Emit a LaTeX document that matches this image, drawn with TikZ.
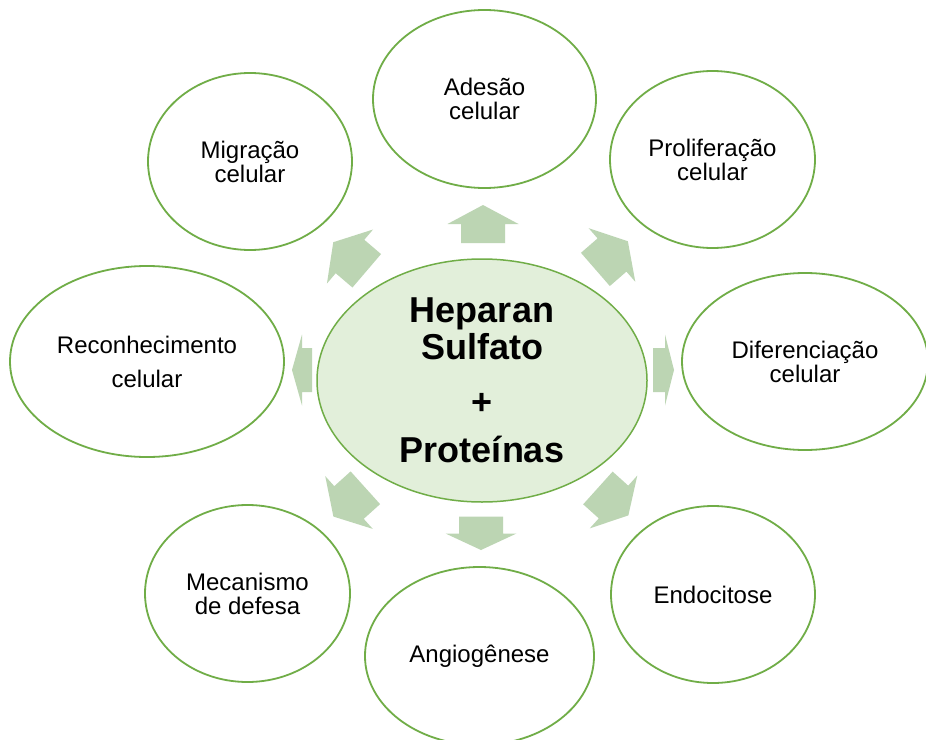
\documentclass[tikz,border=0pt]{standalone}
\usepackage{fontspec}
\setmainfont{Liberation Sans}
\usetikzlibrary{shapes.geometric}
\definecolor{ringgreen}{HTML}{70AD47}
\definecolor{arrowgreen}{HTML}{BCD5B3}
\definecolor{hubfill}{HTML}{E2EFDA}
\tikzset{
  bubble/.style={ellipse, draw=ringgreen, line width=1.8bp, fill=white, inner sep=0pt, align=center,
    font=\fontsize{24bp}{24bp}\selectfont},
  hub/.style={ellipse, draw=ringgreen, line width=1.5bp, fill=hubfill, inner sep=0pt, align=center,
    font=\fontsize{36bp}{37bp}\selectfont\bfseries},
  blockarrow/.style={fill=arrowgreen, draw=none},
}
\newcommand{\blockarr}[5]{%
  \begin{scope}[shift={(#1,#2)}, rotate=#3]
    \fill[blockarrow] (-#4,-22) -- (0,-22) -- (0,-35.5) -- (#5,0) -- (0,35.5) -- (0,22) -- (-#4,22) -- cycle;
  \end{scope}}
\begin{document}
\begin{tikzpicture}[x=1bp, y=-1bp]
\useasboundingbox[fill=white] (0,0) rectangle (926,740);

% central hub
\node[hub, minimum width=330bp, minimum height=243bp] (hub) at (482,380.5)
  {Heparan\\Sulfato\\[18bp]+\\[11bp]Prote\'{\i}nas};

% surrounding bubbles
\node[bubble, minimum width=223bp, minimum height=178bp] (adesao) at (484.5,99) {Adesão\\celular};
\node[bubble, minimum width=204bp, minimum height=177bp] (migracao) at (250,161.5) {Migração\\celular};
\node[bubble, minimum width=205bp, minimum height=177bp] (prolif) at (712.5,159.5) {Proliferação\\celular};
\node[bubble, minimum width=274bp, minimum height=191bp, font=\fontsize{24bp}{34bp}\selectfont] (reconh) at (147,361.5) {Reconhecimento\\celular};
\node[bubble, minimum width=246bp, minimum height=177bp] (difer) at (805,361.5) {Diferenciação\\celular};
\node[bubble, minimum width=205bp, minimum height=177bp] (mecan) at (247.5,593.5) {Mecanismo\\de defesa};
\node[bubble, minimum width=229bp, minimum height=178bp] (angio) at (479.5,656) {Angiogênese};
\node[bubble, minimum width=204bp, minimum height=177bp] (endo) at (713,594.5) {Endocitose};

% block arrows: base x, base y, angle, body length, head length
\blockarr{483}{224}{90}{19}{19}
\blockarr{481}{533.5}{-90}{17}{16.5}
\blockarr{665}{370}{0}{12}{9}
\blockarr{302}{370}{180}{10}{10}
\blockarr{350}{256.5}{139.5}{22}{22}
\blockarr{612}{255}{41}{22}{21}
\blockarr{349}{502.5}{222}{22}{21}
\blockarr{613.5}{502}{-42}{21}{20}
\end{tikzpicture}
\end{document}
